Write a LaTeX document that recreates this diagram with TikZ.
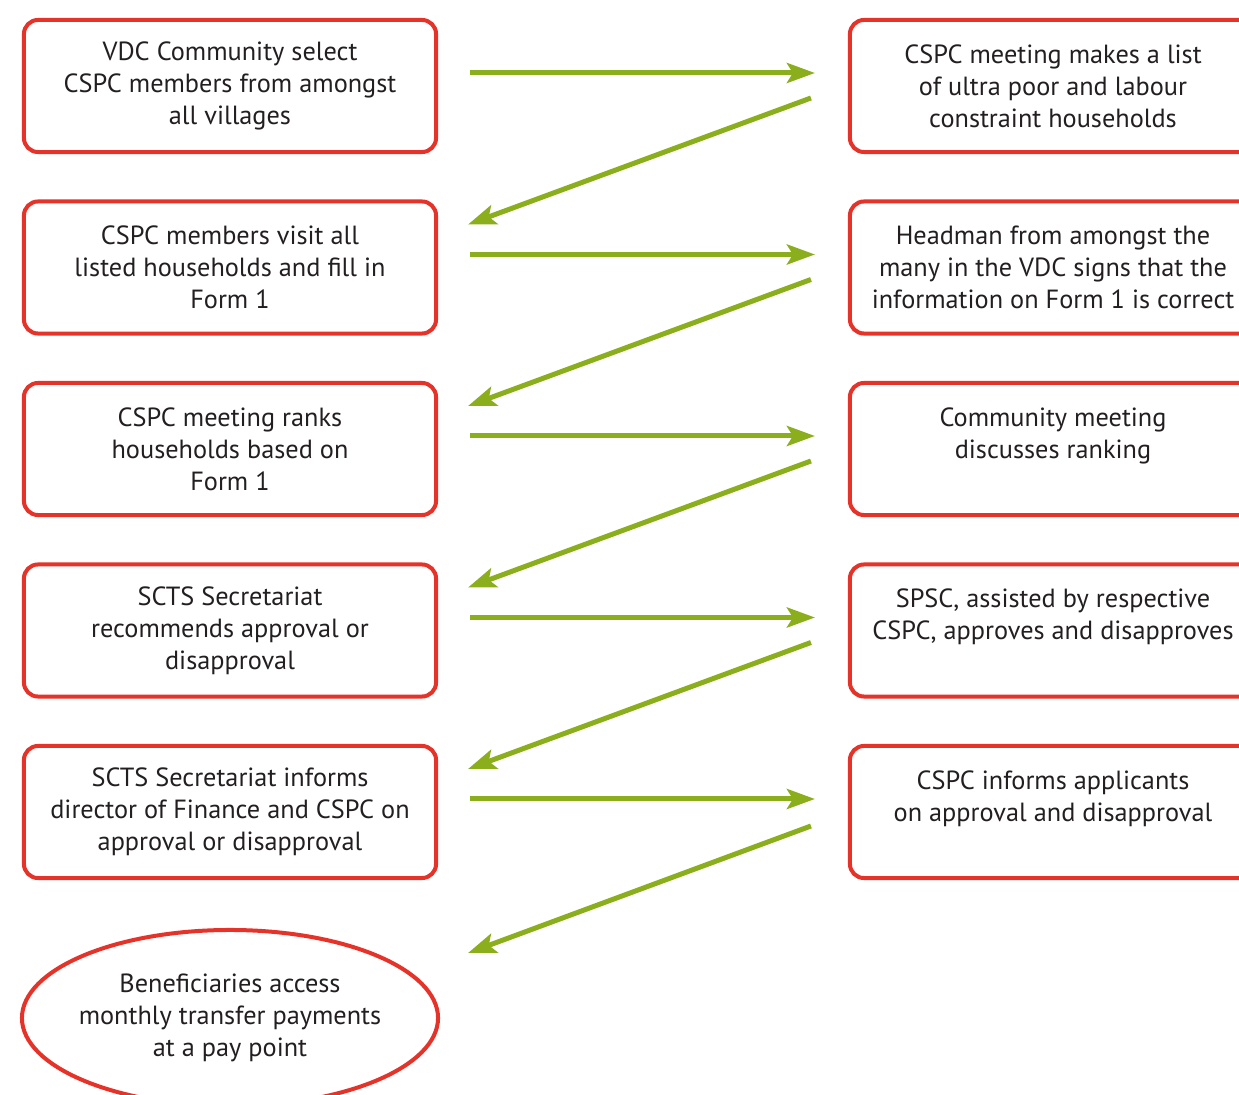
\documentclass[tikz,border=0pt]{standalone}
\usepackage{fontspec}
\setmainfont{PT Sans}
\usetikzlibrary{arrows.meta,calc,shapes.geometric}
\definecolor{boxred}{HTML}{E5332A}
\definecolor{arrowgreen}{HTML}{8BAF1C}
\definecolor{textgray}{HTML}{231F20}
\tikzset{
    block/.style = {draw=boxred, rectangle, rounded corners=0.35cm,
        line width=0.1cm,
        minimum width=10.3cm,
        minimum height=3.3cm,
        align=center, text=textgray,
        font=\fontsize{18.7}{22.8}\selectfont},
    wideblock/.style = {block, minimum width=10.15cm},
    oval/.style = {draw=boxred, ellipse, line width=0.1cm,
        inner xsep=-2cm, inner ysep=-1cm,
        minimum width=10.4cm,
        minimum height=4.4cm,
        align=center, text=textgray,
        font=\fontsize{18.7}{22.8}\selectfont},
    arrow/.style = {draw=arrowgreen, line width=0.125cm,
        -{Stealth[length=0.7cm, width=0.5cm, inset=0.15cm]}}
}

\begin{document}
\begin{tikzpicture}[x=0.025cm, y=-0.025cm]
            \useasboundingbox (0,0) rectangle (1239,1095);
            \clip (0,0) rectangle (1239,1095);
            % left column
            \node[block] (l1) at (230,86) {VDC Community select\\CSPC members from amongst\\all villages};
            \node[block] (l2) at (230,267.5) {CSPC members visit all\\listed households and fill in\\Form 1};
            \node[block] (l3) at (230,449) {CSPC meeting ranks\\households based on\\Form 1};
            \node[block] (l4) at (230,630.5) {SCTS Secretariat\\recommends approval or\\disapproval};
            \node[block] (l5) at (230,812) {SCTS Secretariat informs\\director of Finance and CSPC on\\approval or disapproval};
            \node[oval] (pay) at (230,1018) {Beneficiaries access\\monthly transfer payments\\at a pay point};
            % right column
            \node[wideblock] (r1) at (1053,86) {CSPC meeting makes a list\\of ultra poor and labour\\constraint households};
            \node[wideblock] (r2) at (1053,267.5) {Headman from amongst the\\many in the VDC signs that the\\information on Form 1 is correct};
            \node[wideblock] (r3) at (1053,449) {Community meeting\\discusses ranking\\[-7pt]\strut};
            \node[wideblock] (r4) at (1053,630.5) {SPSC, assisted by respective\\CSPC, approves and disapproves\\[-7pt]\strut};
            \node[wideblock] (r5) at (1053,812) {CSPC informs applicants\\on approval and disapproval\\[-7pt]\strut};
            % across
            \draw[arrow] ($(l1.east)+(32,-13)$) -- ($(r1.west)+(-33,-13)$);
            \draw[arrow] ($(l2.east)+(32,-13)$) -- ($(r2.west)+(-33,-13)$);
            \draw[arrow] ($(l3.east)+(32,-13)$) -- ($(r3.west)+(-33,-13)$);
            \draw[arrow] ($(l4.east)+(32,-13)$) -- ($(r4.west)+(-33,-13)$);
            \draw[arrow] ($(l5.east)+(32,-13)$) -- ($(r5.west)+(-33,-13)$);
            % back down
            \draw[arrow] ($(r1.west)+(-37,12)$) -- ($(l2.east)+(30,-43)$);
            \draw[arrow] ($(r2.west)+(-37,12)$) -- ($(l3.east)+(30,-43)$);
            \draw[arrow] ($(r3.west)+(-37,12)$) -- ($(l4.east)+(30,-43)$);
            \draw[arrow] ($(r4.west)+(-37,12)$) -- ($(l5.east)+(30,-43)$);
            \draw[arrow] ($(r5.west)+(-37,14)$) -- ($(pay.east)+(28,-65)$);
        \end{tikzpicture}
\end{document}
